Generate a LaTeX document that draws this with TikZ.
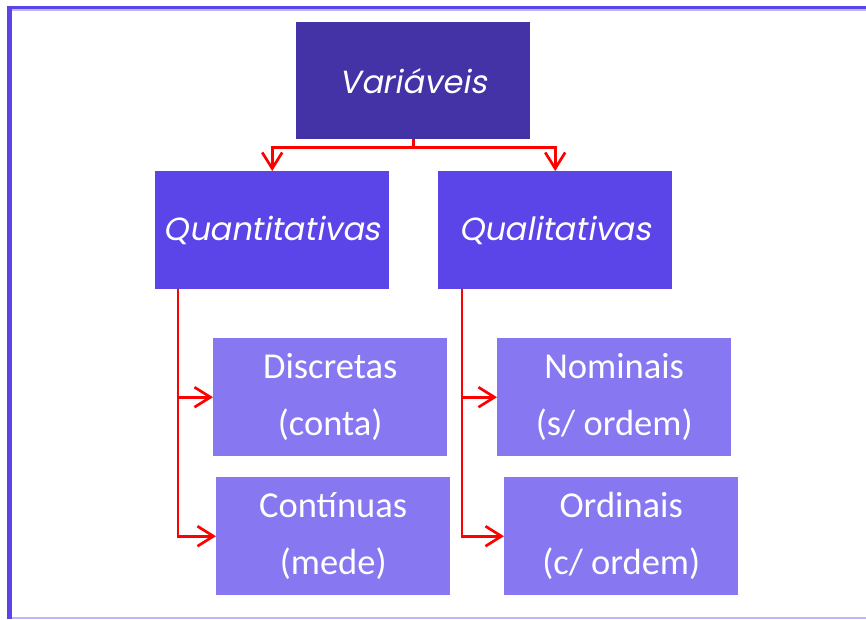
\documentclass[tikz,border=0pt]{standalone}
\usepackage{fontspec}
\setmainfont{Carlito}
\newfontfamily\titlefont[FakeSlant=0.18]{Poppins}
\usetikzlibrary{arrows.meta,calc}
\definecolor{darkbox}{RGB}{68,51,166}
\definecolor{midbox}{RGB}{91,69,233}
\definecolor{lightbox}{RGB}{135,119,240}
\definecolor{lavline}{RGB}{190,182,250}
\definecolor{conn}{RGB}{255,0,0}
\tikzset{
  boxbase/.style={anchor=north west, inner sep=0pt, minimum width=234pt, text=white, align=center},
  topbox/.style={boxbase, fill=darkbox, minimum height=117pt, font=\titlefont\fontsize{32}{38}\selectfont},
  catbox/.style={boxbase, fill=midbox, minimum height=118pt, font=\titlefont\fontsize{32}{38}\selectfont},
  subbox/.style={boxbase, fill=lightbox, minimum height=118pt, font=\fontsize{36.5}{57}\selectfont},
  link/.style={draw=conn, line width=2.7pt, -{Straight Barb[length=16pt,width=20pt,line width=2.7pt]}},
}
\begin{document}
\begin{tikzpicture}[x=1pt,y=-1pt]
\useasboundingbox (0,0) rectangle (866,619);
% frame
\fill[lavline] (12,616.5) rectangle (866,618.5);
\fill[lavline] (12,9) rectangle (866,10.5);
\fill[midbox] (7,6) rectangle (866,9);
\fill[midbox] (7,6) rectangle (12,619);
% boxes
\node[topbox] (var) at (296,22) {Variáveis};
\node[catbox] (quan) at (155,171) {Quantitativas};
\node[catbox] (qual) at (438,171) {Qualitativas};
\node[subbox] (disc) at (213,338) {Discretas\\(conta)};
\node[subbox] (cont) at (216,477) {Contínuas\\(mede)};
\node[subbox] (nom) at (497,338) {Nominais\\(s/ ordem)};
\node[subbox] (ord) at (504,477) {Ordinais\\(c/ ordem)};
% connectors
\coordinate (split) at ($(var.south)+(0,8)$);
\draw[draw=conn, line width=2.7pt] (var.south) -- (split);
\draw[link] (split) -| (quan.north);
\draw[link] (split) -| (qual.north);
\coordinate (qa) at ($(quan.south west)+(23,0)$);
\coordinate (qb) at ($(qual.south west)+(24,0)$);
\draw[link] (qa) |- (disc.west);
\draw[link] (qa) |- (cont.west);
\draw[link] (qb) |- (nom.west);
\draw[link] (qb) |- (ord.west);
\end{tikzpicture}
\end{document}
